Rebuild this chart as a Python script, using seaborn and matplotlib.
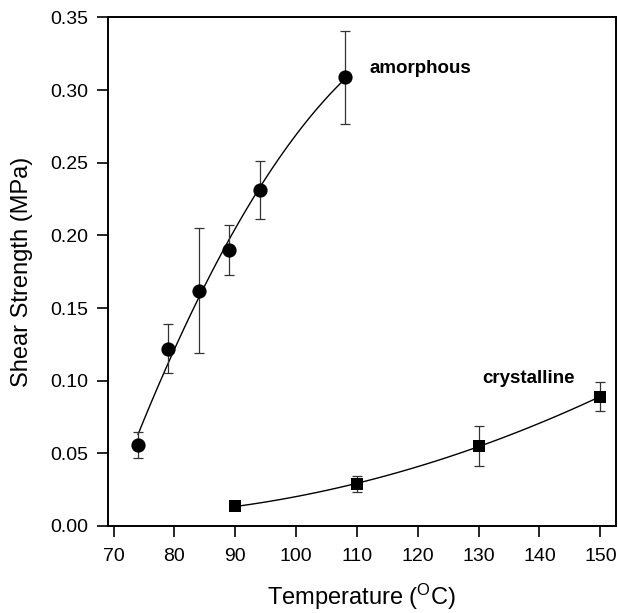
import numpy as np
import pandas as pd
import matplotlib
matplotlib.use("Agg")
import matplotlib.pyplot as plt
import seaborn as sns

# ---- data ----
amor_T = [74, 79, 84, 89, 94, 108]
amor_S = [0.056, 0.122, 0.162, 0.190, 0.231, 0.309]
amor_hi = [0.065, 0.139, 0.205, 0.207, 0.251, 0.341]
amor_lo = [0.047, 0.105, 0.119, 0.173, 0.211, 0.277]

cryst_T = [90, 110, 130, 150]
cryst_S = [0.0135, 0.029, 0.055, 0.089]
cryst_hi = [0.0135, 0.0346, 0.069, 0.099]
cryst_lo = [0.0135, 0.0232, 0.041, 0.079]

x_ticks = [70, 80, 90, 100, 110, 120, 130, 140, 150]
y_ticks = [0.00, 0.05, 0.10, 0.15, 0.20, 0.25, 0.30, 0.35]

sns.set_theme(style="ticks")
plt.rcParams["font.family"] = ["Liberation Sans", "DejaVu Sans"]
plt.rcParams["mathtext.default"] = "regular"
plt.rcParams["text.color"] = "black"
plt.rcParams["axes.labelcolor"] = "black"

amor = pd.DataFrame({"T": amor_T, "S": amor_S})
cryst = pd.DataFrame({"T": cryst_T, "S": cryst_S})

fig = plt.figure(figsize=(6.18, 6.13), dpi=100)
ax = fig.add_axes([0.174, 0.142, 0.823, 0.8295])

# fitted curves
sns.regplot(data=amor, x="T", y="S", order=2, ci=None, scatter=False,
            line_kws=dict(color="black", lw=1.0), ax=ax)
sns.regplot(data=cryst, x="T", y="S", order=2, ci=None, scatter=False,
            line_kws=dict(color="black", lw=1.0), ax=ax)

# error bars
for T, S, hi, lo in [(amor_T, amor_S, amor_hi, amor_lo),
                     (cryst_T, cryst_S, cryst_hi, cryst_lo)]:
    S = np.array(S)
    yerr = [S - np.array(lo), np.array(hi) - S]
    ax.errorbar(T, S, yerr=yerr, fmt="none", ecolor="#333333",
                elinewidth=0.9, capsize=3.5, capthick=0.9, zorder=2)

# markers
sns.scatterplot(data=amor, x="T", y="S", marker="o", s=105, color="black",
                edgecolor="black", linewidth=0, ax=ax, zorder=3)
sns.scatterplot(data=cryst, x="T", y="S", marker="s", s=72, color="black",
                edgecolor="black", linewidth=0, ax=ax, zorder=3)

ax.text(112.1, 0.315, "amorphous", fontsize=13.5, fontweight="bold",
        va="center", ha="left", color="black")
ax.text(130.6, 0.1018, "crystalline", fontsize=13.5, fontweight="bold",
        va="center", ha="left", color="black")

ax.set_xlim(69.0, 152.6)
ax.set_ylim(0, 0.35)
ax.set_xticks(x_ticks)
ax.set_yticks(y_ticks)
ax.set_yticklabels([f"{v:.2f}" for v in y_ticks])

for sp in ax.spines.values():
    sp.set_visible(True)
    sp.set_linewidth(1.4)
    sp.set_color("black")

ax.tick_params(axis="both", direction="out", length=8, width=1.2,
               labelsize=14, colors="black", labelcolor="black")
ax.tick_params(axis="x", pad=8)
ax.tick_params(axis="y", pad=6)

ax.set_xlabel("Temperature ($^{O}$C)", fontsize=17, labelpad=12)
ax.set_ylabel("Shear Strength (MPa)", fontsize=17, labelpad=12)

fig.savefig("out.png", dpi=100)
